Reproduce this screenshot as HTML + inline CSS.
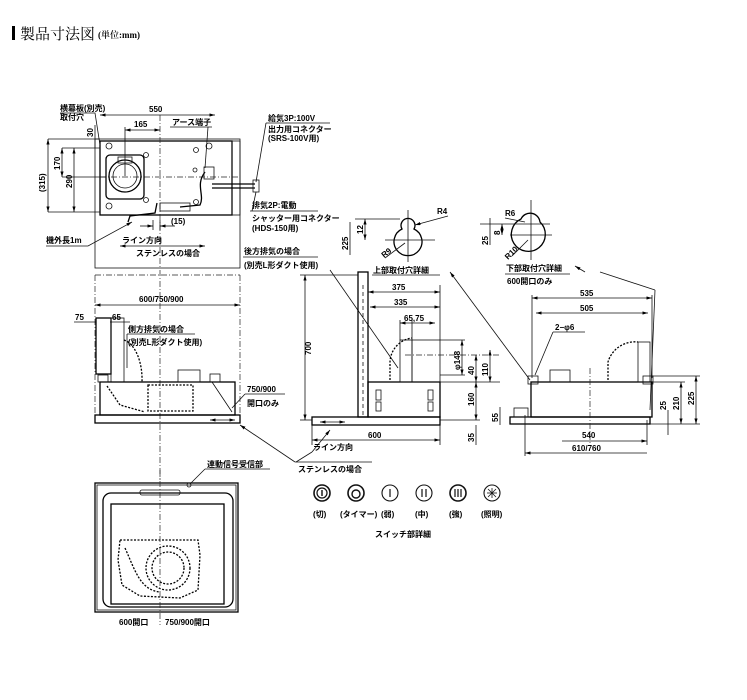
<!DOCTYPE html>
<html><head><meta charset="utf-8"><style>
html,body{margin:0;padding:0;background:#fff;}
svg{display:block}
text{font-family:"Liberation Sans","Noto Sans CJK JP",sans-serif;font-size:8px;fill:#000;font-weight:600}
.s{stroke:#000;fill:none;stroke-width:1.3}
.t{stroke:#111;fill:none;stroke-width:0.8}
.d{stroke:#222;fill:none;stroke-width:0.7;stroke-dasharray:6 2 1 2}
.dd{stroke:#000;fill:none;stroke-width:1.3;stroke-dasharray:2 1.5}
</style></head><body>
<svg width="747" height="700" viewBox="0 0 747 700" xmlns="http://www.w3.org/2000/svg">
<defs><marker id="a" markerWidth="7" markerHeight="4" refX="7" refY="2" orient="auto-start-reverse"><path d="M0,0 L7,2 L0,4z" fill="#000"/></marker></defs>
<rect x="12" y="26" width="3" height="14" fill="#000"/>
<text x="20" y="39" style="font-family:'Liberation Serif','Noto Serif CJK SC',serif;font-size:15px;font-weight:400">製品寸法図</text>
<text x="98" y="38" style="font-family:'Liberation Serif','Noto Serif CJK SC',serif;font-size:9px">(単位:mm)</text>

<!-- TOP VIEW -->
<rect class="t" x="95" y="139" width="145" height="129"/>
<rect class="s" x="100" y="141" width="132" height="74"/>
<rect class="t" x="232" y="141" width="8" height="74"/>
<line class="d" x1="160" y1="115" x2="160" y2="268"/>
<line class="d" x1="100" y1="177" x2="240" y2="177"/>
<rect class="s" x="106" y="155" width="38" height="44" rx="4"/>
<circle class="s" cx="125" cy="176" r="16"/><circle class="t" cx="125" cy="176" r="12"/>
<rect class="t" x="118" y="157" width="14" height="6"/>
<circle class="t" cx="109" cy="146" r="3"/><circle class="t" cx="109" cy="206" r="3"/>
<circle class="t" cx="146" cy="155" r="2.5"/><circle class="t" cx="146" cy="200" r="2.5"/>
<circle class="t" cx="196" cy="150" r="2.5"/><circle class="t" cx="196" cy="202" r="2.5"/>
<circle class="t" cx="209" cy="146" r="3"/><circle class="t" cx="195" cy="170" r="2"/>
<path class="s" d="M205,172 C195,185 205,195 200,205 L180,207"/>
<rect class="t" x="204" y="167" width="10" height="12"/>
<path class="s" d="M212,184 L255,184 M212,188 L255,188"/>
<rect class="t" x="253" y="180" width="6" height="12"/>
<rect class="t" x="160" y="203" width="30" height="8"/>
<path class="s" d="M157,203 L155,213 L130,216 L128,222"/>
<line class="t" x1="100" y1="115" x2="215" y2="115" marker-start="url(#a)" marker-end="url(#a)"/>
<text x="149" y="112">550</text>
<line class="t" x1="125" y1="130" x2="160" y2="130" marker-start="url(#a)" marker-end="url(#a)"/>
<line class="t" x1="125" y1="127" x2="125" y2="176"/>
<text x="134" y="127">165</text>
<text x="172" y="125">アース端子</text><line class="t" x1="170" y1="127" x2="212" y2="127"/><line class="t" x1="208" y1="127" x2="205" y2="168"/>
<text x="60" y="111">横幕板(別売)</text><text x="60" y="120">取付穴</text>
<path class="t" d="M60,113 L95,113 L100,145"/>
<line class="t" x1="48" y1="139" x2="100" y2="139"/><line class="t" x1="48" y1="212" x2="100" y2="212"/>
<line class="t" x1="48" y1="139" x2="48" y2="212" marker-start="url(#a)" marker-end="url(#a)"/>
<text transform="translate(45,192) rotate(-90)">(315)</text>
<line class="t" x1="74" y1="148" x2="74" y2="212" marker-start="url(#a)" marker-end="url(#a)"/>
<text transform="translate(72,188) rotate(-90)">290</text>
<line class="t" x1="62" y1="148" x2="100" y2="148"/><line class="t" x1="62" y1="148" x2="62" y2="177" marker-start="url(#a)" marker-end="url(#a)"/>
<line class="t" x1="62" y1="177" x2="106" y2="177"/>
<text transform="translate(60,170) rotate(-90)">170</text>
<line class="t" x1="95" y1="125" x2="95" y2="148"/><text transform="translate(93,137) rotate(-90)">30</text>
<line class="t" x1="153" y1="220" x2="153" y2="230"/><line class="t" x1="160" y1="220" x2="160" y2="230"/>
<line class="t" x1="140" y1="226" x2="153" y2="226" marker-end="url(#a)"/><line class="t" x1="175" y1="226" x2="160" y2="226" marker-end="url(#a)"/>
<text x="171" y="224">(15)</text>
<text x="122" y="243">ライン方向</text>
<line class="t" x1="120" y1="246" x2="205" y2="246" marker-start="url(#a)" marker-end="url(#a)"/>
<text x="136" y="256">ステンレスの場合</text>
<text x="46" y="243">機外長1m</text><path class="t" d="M46,246 L88,246 L132,222" marker-end="url(#a)"/>
<text x="268" y="121">給気3P:100V</text>
<line class="t" x1="266" y1="123" x2="330" y2="123"/>
<text x="268" y="132">出力用コネクター</text><text x="268" y="141">(SRS-100V用)</text>
<line class="t" x1="266" y1="123" x2="256" y2="182"/>
<text x="252" y="208">排気2P:電動</text><line class="t" x1="250" y1="211" x2="318" y2="211"/><line class="t" x1="252" y1="211" x2="256" y2="192"/>
<text x="252" y="221">シャッター用コネクター</text><text x="252" y="231">(HDS-150用)</text>
<text x="244" y="254">後方排気の場合</text><line class="t" x1="243" y1="257" x2="318" y2="257"/>
<text x="244" y="268">(別売L形ダクト使用)</text>
<line class="t" x1="330" y1="270" x2="398" y2="368"/>

<!-- FRONT VIEW -->
<line class="d" x1="95" y1="275" x2="240" y2="275"/>
<line class="d" x1="95" y1="275" x2="95" y2="423"/><line class="d" x1="240" y1="275" x2="240" y2="423"/>
<line class="d" x1="160" y1="270" x2="160" y2="480"/>
<line class="t" x1="95" y1="305" x2="240" y2="305" marker-start="url(#a)" marker-end="url(#a)"/>
<text x="139" y="302">600/750/900</text>
<text x="75" y="320">75</text><line class="t" x1="74" y1="322" x2="96" y2="322"/>
<text x="112" y="320">65</text><line class="t" x1="110" y1="322" x2="130" y2="322"/>
<rect class="s" x="96" y="318" width="15" height="56"/>
<rect class="t" x="111" y="318" width="13" height="64"/>
<path class="dd" d="M124,340 A22,40 0 0 1 142,382"/>
<text x="128" y="332">側方排気の場合</text><text x="128" y="345">(別売L形ダクト使用)</text>
<line class="t" x1="127" y1="334" x2="195" y2="334"/><line class="t" x1="127" y1="334" x2="127" y2="368"/>
<rect class="s" x="100" y="382" width="135" height="33"/>
<rect class="s" x="95" y="415" width="145" height="8"/>
<rect class="t" x="178" y="370" width="22" height="12"/>
<rect class="dd" x="148" y="385" width="45" height="26"/>
<path class="dd" d="M107,386 L120,405 L145,412"/>
<line class="t" x1="212" y1="382" x2="232" y2="412"/>
<rect class="t" x="98" y="375" width="10" height="7"/><rect class="t" x="210" y="374" width="10" height="8"/>
<line class="t" x1="210" y1="420" x2="235" y2="420" marker-start="url(#a)" marker-end="url(#a)"/>
<text x="247" y="392">750/900</text><line class="t" x1="245" y1="394" x2="285" y2="394"/>
<text x="247" y="406">開口のみ</text><line class="t" x1="245" y1="394" x2="232" y2="408"/>
<line class="t" x1="295" y1="462" x2="240" y2="425" marker-end="url(#a)"/>

<!-- SIDE VIEW -->
<rect class="s" x="358" y="272" width="10" height="145"/>
<line class="t" x1="363" y1="285" x2="363" y2="417" stroke-dasharray="4 3"/>
<rect class="s" x="368" y="382" width="72" height="35"/>
<rect class="s" x="312" y="417" width="128" height="8"/>
<rect class="t" x="412" y="340" width="28" height="42"/>
<rect class="t" x="400" y="340" width="12" height="42"/>
<path class="dd" d="M390,380 L390,362 A25,25 0 0 1 412,338"/>
<rect class="t" x="376" y="390" width="5" height="10"/><rect class="t" x="376" y="402" width="5" height="9"/>
<rect class="t" x="428" y="390" width="5" height="10"/><rect class="t" x="428" y="402" width="5" height="9"/>
<line class="d" x1="405" y1="355" x2="500" y2="355"/>
<line class="t" x1="305" y1="275" x2="305" y2="420" marker-start="url(#a)" marker-end="url(#a)"/>
<line class="t" x1="300" y1="275" x2="358" y2="275"/><line class="t" x1="300" y1="420" x2="312" y2="420"/>
<text transform="translate(311,355) rotate(-90)">700</text>
<line class="t" x1="368" y1="292" x2="440" y2="292" marker-start="url(#a)" marker-end="url(#a)"/><text x="392" y="290">375</text>
<line class="t" x1="370" y1="307" x2="440" y2="307" marker-start="url(#a)" marker-end="url(#a)"/><text x="394" y="305">335</text>
<line class="t" x1="440" y1="285" x2="440" y2="340"/>
<line class="t" x1="400" y1="323" x2="435" y2="323" marker-start="url(#a)" marker-end="url(#a)"/><text x="404" y="321">65,75</text>
<line class="t" x1="400" y1="320" x2="400" y2="340"/><line class="t" x1="412" y1="320" x2="412" y2="340"/>
<line class="t" x1="440" y1="340" x2="465" y2="340"/><line class="t" x1="440" y1="375" x2="465" y2="375"/>
<line class="t" x1="462" y1="340" x2="462" y2="375" marker-start="url(#a)" marker-end="url(#a)"/>
<text transform="translate(460,370) rotate(-90)">φ148</text>
<line class="t" x1="476" y1="355" x2="476" y2="382" marker-start="url(#a)" marker-end="url(#a)"/>
<text transform="translate(474,375) rotate(-90)">40</text>
<line class="t" x1="440" y1="382" x2="500" y2="382"/>
<line class="t" x1="490" y1="350" x2="490" y2="382" marker-start="url(#a)" marker-end="url(#a)"/>
<text transform="translate(488,376) rotate(-90)">110</text>
<line class="t" x1="476" y1="382" x2="476" y2="420" marker-start="url(#a)" marker-end="url(#a)"/>
<text transform="translate(474,406) rotate(-90)">160</text>
<line class="t" x1="440" y1="420" x2="480" y2="420"/>
<line class="t" x1="476" y1="425" x2="476" y2="445"/><text transform="translate(474,442) rotate(-90)">35</text>
<line class="t" x1="312" y1="425" x2="312" y2="445"/><line class="t" x1="440" y1="425" x2="440" y2="445"/>
<line class="t" x1="312" y1="440" x2="440" y2="440" marker-start="url(#a)" marker-end="url(#a)"/><text x="368" y="438">600</text>
<line class="t" x1="320" y1="422" x2="345" y2="422" marker-start="url(#a)" marker-end="url(#a)"/>
<line class="t" x1="312" y1="452" x2="330" y2="430" marker-end="url(#a)"/>
<line class="t" x1="296" y1="462" x2="312" y2="452"/>
<text x="313" y="450">ライン方向</text><line class="t" x1="295" y1="462" x2="372" y2="462"/>
<text x="298" y="472">ステンレスの場合</text>

<!-- KEYHOLE DETAILS -->
<path class="s" d="M402,229 A7,7 0 1 1 414,229 A14,14 0 1 1 402,229z"/>
<line class="t" x1="408" y1="210" x2="408" y2="262"/><line class="t" x1="385" y1="240" x2="435" y2="240"/>
<line class="t" x1="355" y1="219" x2="400" y2="219"/>
<line class="t" x1="365" y1="219" x2="365" y2="240" marker-start="url(#a)" marker-end="url(#a)"/><text transform="translate(363,234) rotate(-90)">12</text>
<line class="t" x1="350" y1="222" x2="350" y2="255"/><text transform="translate(348,250) rotate(-90)">225</text>
<text x="437" y="214">R4</text><line class="t" x1="448" y1="216" x2="415" y2="225" marker-end="url(#a)"/>
<text transform="translate(384,258) rotate(-38)">R9</text><line class="t" x1="385" y1="258" x2="405" y2="243"/>
<text x="373" y="273">上部取付穴詳細</text><line class="t" x1="372" y1="275" x2="440" y2="275"/>
<line class="t" x1="450" y1="272" x2="530" y2="380" marker-start="url(#a)"/>
<path class="s" d="M521,219 A10,10 0 0 1 540,222 A17,17 0 1 1 521,219z"/>
<line class="t" x1="531" y1="200" x2="531" y2="260"/><line class="t" x1="510" y1="235" x2="552" y2="235"/>
<line class="t" x1="480" y1="224" x2="550" y2="224"/>
<line class="t" x1="502" y1="224" x2="502" y2="235" marker-start="url(#a)" marker-end="url(#a)"/><text transform="translate(500,235) rotate(-90)">8</text>
<line class="t" x1="490" y1="218" x2="490" y2="245"/><text transform="translate(488,245) rotate(-90)">25</text>
<text x="505" y="216">R6</text><line class="t" x1="505" y1="218" x2="525" y2="222"/>
<text transform="translate(508,260) rotate(-45)">R10</text><line class="t" x1="512" y1="256" x2="528" y2="240"/>
<text x="506" y="271">下部取付穴詳細</text><line class="t" x1="505" y1="274" x2="570" y2="274"/>
<text x="507" y="284">600開口のみ</text>
<line class="t" x1="585" y1="272" x2="575" y2="266" marker-end="url(#a)"/>
<line class="t" x1="600" y1="272" x2="655" y2="290"/><line class="t" x1="655" y1="290" x2="650" y2="410"/>

<!-- RIGHT FRONT VIEW -->
<rect class="s" x="531" y="382" width="121" height="35"/>
<rect class="s" x="510" y="417" width="140" height="7"/>
<rect class="t" x="514" y="408" width="14" height="9"/>
<rect class="t" x="550" y="370" width="20" height="12"/>
<rect class="t" x="528" y="376" width="10" height="8"/><rect class="t" x="643" y="376" width="10" height="8"/>
<rect class="t" x="638" y="342" width="12" height="40"/>
<path class="dd" d="M608,380 L608,362 A28,28 0 0 1 638,342"/>
<line class="d" x1="590" y1="368" x2="590" y2="445"/>
<line class="t" x1="532" y1="298" x2="652" y2="298" marker-start="url(#a)" marker-end="url(#a)"/><text x="580" y="296">535</text>
<line class="t" x1="536" y1="313" x2="648" y2="313" marker-start="url(#a)" marker-end="url(#a)"/><text x="580" y="311">505</text>
<line class="t" x1="532" y1="295" x2="532" y2="378"/><line class="t" x1="652" y1="295" x2="652" y2="378"/>
<text x="555" y="330">2−φ6</text><line class="t" x1="553" y1="332" x2="585" y2="332"/><line class="t" x1="553" y1="332" x2="535" y2="375"/>
<line class="t" x1="652" y1="376" x2="700" y2="376"/><line class="t" x1="652" y1="382" x2="685" y2="382"/>
<line class="t" x1="650" y1="424" x2="700" y2="424"/>
<line class="t" x1="696" y1="376" x2="696" y2="424" marker-start="url(#a)" marker-end="url(#a)"/><text transform="translate(694,405) rotate(-90)">225</text>
<line class="t" x1="681" y1="382" x2="681" y2="424" marker-start="url(#a)" marker-end="url(#a)"/><text transform="translate(679,410) rotate(-90)">210</text>
<line class="t" x1="668" y1="410" x2="668" y2="435"/><text transform="translate(666,410) rotate(-90)">25</text>
<line class="t" x1="500" y1="407" x2="500" y2="425"/><text transform="translate(498,422) rotate(-90)">55</text>
<line class="t" x1="562" y1="441" x2="647" y2="441" marker-end="url(#a)"/><text x="582" y="438">540</text>
<line class="t" x1="647" y1="420" x2="647" y2="445"/>
<line class="t" x1="525" y1="453" x2="647" y2="453" marker-start="url(#a)"/><text x="572" y="451">610/760</text>
<line class="t" x1="525" y1="415" x2="525" y2="456"/>

<!-- BOTTOM VIEW -->
<rect class="s" x="95" y="483" width="143" height="129"/>
<rect class="t" x="97" y="485" width="139" height="125"/>
<rect class="s" x="103" y="493" width="130" height="114" rx="8"/>
<rect class="s" x="111" y="504" width="113" height="100"/>
<rect class="t" x="140" y="490" width="40" height="5" rx="2"/>
<circle class="t" cx="189" cy="485" r="2"/>
<path class="dd" d="M120,540 L198,540 L200,555 L198,590 L180,598 L140,596 L122,585 L118,560z"/>
<circle class="dd" cx="168" cy="568" r="22"/><circle class="dd" cx="168" cy="568" r="16"/>
<path class="dd" d="M125,548 C135,570 140,590 160,592"/>
<line class="d" x1="160" y1="470" x2="160" y2="625"/>
<text x="207" y="467">連動信号受信部</text><line class="t" x1="205" y1="469" x2="270" y2="469"/><line class="t" x1="205" y1="469" x2="190" y2="484"/>
<text x="119" y="625">600開口</text><text x="165" y="625">750/900開口</text>

<!-- SWITCHES -->
<g class="t">
<circle cx="322" cy="493" r="8" stroke-width="1.6"/><circle cx="322" cy="493" r="5" stroke-width="1.2"/><line x1="322" y1="490" x2="322" y2="496" stroke-width="1.4"/>
<circle cx="356" cy="493" r="8" stroke-width="1.6"/><circle cx="356" cy="494" r="4" stroke-width="1.4"/>
<circle cx="390" cy="493" r="8" stroke-width="1.1"/><line x1="390" y1="489" x2="390" y2="497" stroke-width="1.2"/>
<circle cx="424" cy="493" r="8" stroke-width="1.1"/><line x1="422" y1="489" x2="422" y2="497" stroke-width="1.2"/><line x1="426" y1="489" x2="426" y2="497" stroke-width="1.2"/>
<circle cx="458" cy="493" r="8" stroke-width="1.6"/><line x1="455" y1="489" x2="455" y2="497" stroke-width="1.2"/><line x1="458" y1="489" x2="458" y2="497" stroke-width="1.2"/><line x1="461" y1="489" x2="461" y2="497" stroke-width="1.2"/>
<circle cx="492" cy="493" r="8" stroke-width="1.1"/><line x1="487" y1="493" x2="497" y2="493"/><line x1="492" y1="488" x2="492" y2="498"/><line x1="488" y1="489" x2="496" y2="497"/><line x1="496" y1="489" x2="488" y2="497"/>
</g>
<text x="313" y="517">(切)</text><text x="340" y="517">(タイマー)</text><text x="381" y="517">(弱)</text>
<text x="415" y="517">(中)</text><text x="449" y="517">(強)</text><text x="481" y="517">(照明)</text>
<text x="375" y="537">スイッチ部詳細</text>
</svg>
</body></html>
